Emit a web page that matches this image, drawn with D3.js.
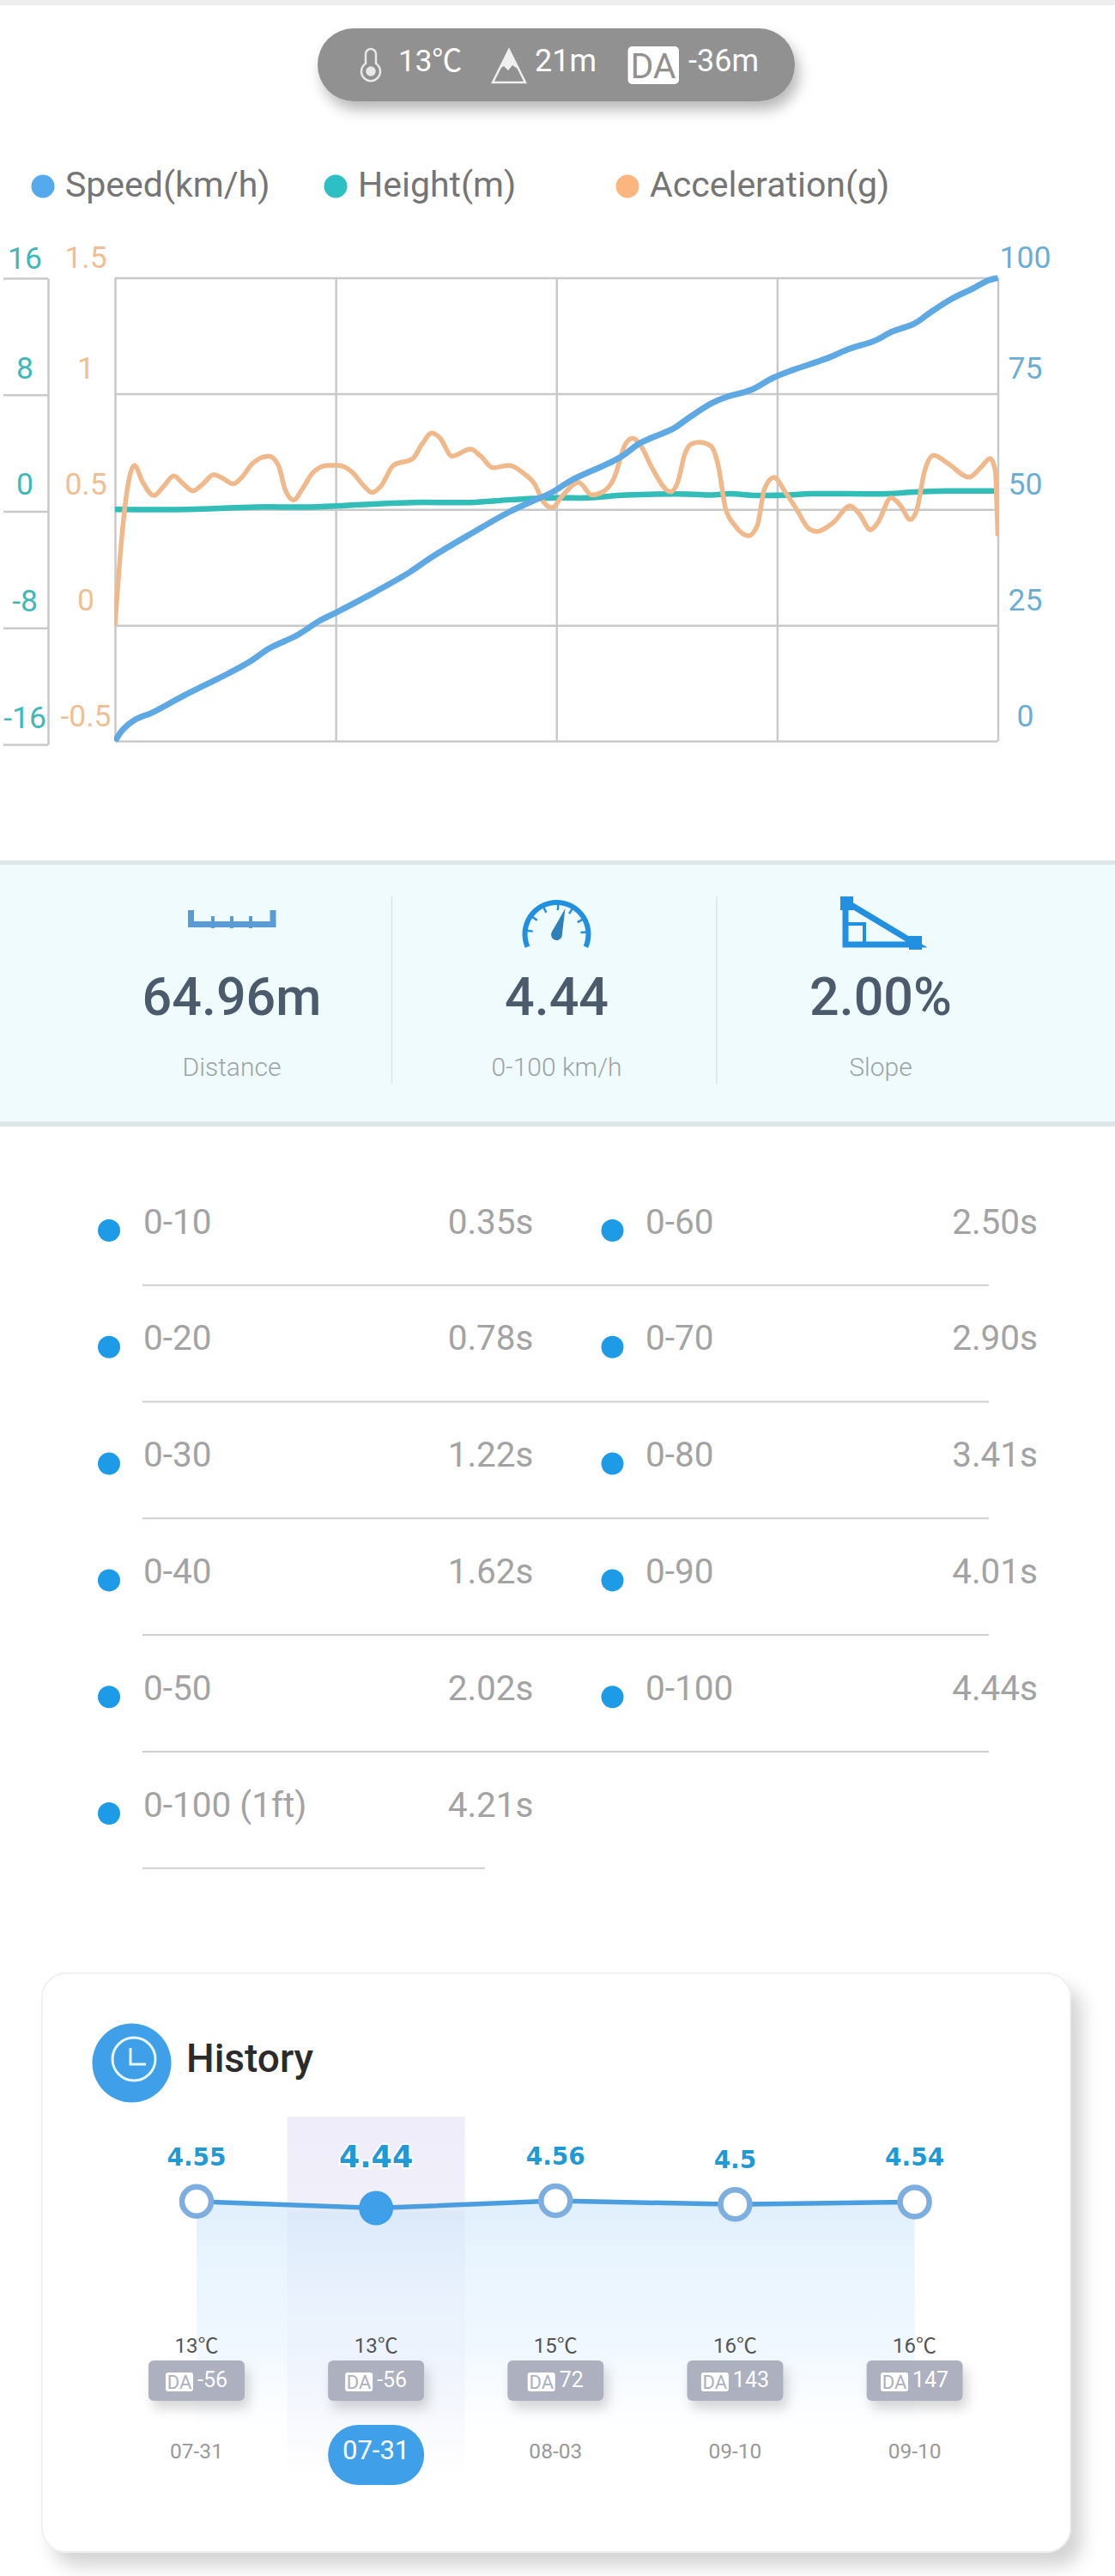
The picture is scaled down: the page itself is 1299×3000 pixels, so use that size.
<!DOCTYPE html>
<html>
<head>
<meta charset="utf-8">
<script src="https://cdn.jsdelivr.net/npm/d3@7"></script>
<style>
  html, body { margin: 0; padding: 0; background: #fff; }
  svg { display: block; font-family: Roboto, "Noto Sans", sans-serif; }
  svg text { font-family: Roboto, "Noto Sans CJK SC", sans-serif; }
</style>
</head>
<body>
<div id="chart"></div>
<script>
// Acceleration run: time in seconds against speed, height and acceleration
const speedTimes = [0,0.04,0.10,0.19,0.35,0.57,0.68,0.78,0.91,1.03,1.11,1.30,1.48,1.60,1.80,1.98,2.10,2.19,2.30,2.47,2.55,2.64,2.81,2.88,3.00,3.07,3.20,3.31,3.41,3.58,3.69,3.82,3.91,4.02,4.10,4.21,4.32,4.39,4.44];
const speedValues = [0,2.5,4.6,6.2,9.9,14.6,17.2,20.1,22.7,26,27.7,32,36.4,39.9,45,49.4,51.8,53.5,56.4,59.7,61.5,64.3,67.5,69.6,72.9,74.2,75.8,78.4,80.1,82.6,84.6,86.4,88.4,90.1,92.5,95.5,97.8,99.4,100];

const heightTimes = [0,0.37,0.71,0.98,1.28,1.50,1.79,1.98,2.21,2.38,2.57,2.88,3.00,3.09,3.22,3.39,3.50,3.89,4.00,4.19,4.44];
const heightValues = [0,0,0.17,0.17,0.36,0.48,0.48,0.66,0.8,0.8,0.99,1.06,0.99,1.08,0.97,0.99,1.08,1.08,1.18,1.27,1.27];

const accelTimes = [0,0.03,0.057,0.098,0.138,0.195,0.245,0.295,0.344,0.392,0.442,0.496,0.54,0.594,0.639,0.693,0.773,0.822,0.854,0.899,0.943,0.997,1.069,1.122,1.194,1.248,1.293,1.337,1.4,1.498,1.543,1.593,1.633,1.695,1.788,1.839,1.901,1.982,2.053,2.11,2.155,2.2,2.239,2.332,2.398,2.454,2.51,2.566,2.603,2.65,2.697,2.794,2.831,2.865,2.902,2.94,2.996,3.033,3.071,3.118,3.187,3.23,3.267,3.314,3.37,3.426,3.492,3.529,3.613,3.697,3.744,3.8,3.837,3.903,3.95,4.0,4.034,4.071,4.118,4.193,4.295,4.352,4.402,4.428,4.436,4.44];
const accelValues = [0,0.34,0.56,0.69,0.62,0.56,0.6,0.645,0.61,0.58,0.61,0.65,0.635,0.61,0.64,0.7,0.73,0.69,0.59,0.54,0.59,0.66,0.69,0.69,0.66,0.605,0.573,0.6,0.69,0.72,0.78,0.83,0.81,0.73,0.76,0.73,0.68,0.69,0.657,0.61,0.532,0.507,0.547,0.617,0.562,0.576,0.635,0.78,0.808,0.767,0.686,0.576,0.62,0.737,0.784,0.79,0.774,0.693,0.503,0.43,0.386,0.43,0.59,0.638,0.576,0.503,0.415,0.405,0.444,0.515,0.48,0.412,0.444,0.55,0.517,0.456,0.503,0.664,0.734,0.696,0.639,0.679,0.72,0.664,0.488,0.385];

const speedTicks = [0,25,50,75,100];
const heightTicks = [-16,-8,0,8,16];
const accelTicks = [-0.5,0,0.5,1,1.5];
const timeTicks = [0,1.11,2.22,3.33,4.44];

const legendNames = ["Speed(km/h)","Height(m)","Acceleration(g)"];
const legendColors = ["#55aaee","#2cbfc4","#fbb57e"];

const statValues = ["64.96m","4.44","2.00%"];
const statNames = ["Distance","0-100 km/h","Slope"];

const splitNames = ["0-10","0-20","0-30","0-40","0-50","0-100 (1ft)"];
const splitTimes = ["0.35s","0.78s","1.22s","1.62s","2.02s","4.21s"];
const splitNames2 = ["0-60","0-70","0-80","0-90","0-100"];
const splitTimes2 = ["2.50s","2.90s","3.41s","4.01s","4.44s"];

const historyRuns = ["a","b","c","d","e"];
const historyValues = [4.55,4.44,4.56,4.5,4.54];
const historyTemps = ["13℃","13℃","15℃","16℃","16℃"];
const historyDA = ["-56","-56","72","143","147"];
const historyDates = ["07-31","07-31","08-03","09-10","09-10"];
const selectedRun = 1;

const svg = d3.select("#chart").append("svg").attr("width",1299).attr("height",3000);
const defs = svg.append("defs");

function shadow(id, dx, dy, blur, opacity) {
  const f = defs.append("filter").attr("id",id).attr("x","-30%").attr("y","-30%").attr("width","170%").attr("height","180%");
  f.append("feDropShadow").attr("dx",dx).attr("dy",dy).attr("stdDeviation",blur).attr("flood-color","#000").attr("flood-opacity",opacity);
}
shadow("pillShadow",5,10,8,0.28);
shadow("cardShadow",13,16,10,0.17);
shadow("badgeShadow",5,9,7,0.16);

function gradient(id, stops) {
  const g = defs.append("linearGradient").attr("id",id).attr("x1",0).attr("x2",0).attr("y1",0).attr("y2",1);
  stops.forEach(s => g.append("stop").attr("offset",s[0]).attr("stop-color",s[1]).attr("stop-opacity",s[2]));
}
gradient("areaFill",[[0,"#dfeffc",1],[0.2,"#e8f4fe",1],[0.6,"#f1f8ff",1],[1,"#ffffff",0]]);
gradient("columnFill",[[0,"#efedf9",1],[0.24,"#efedf9",0.9],[0.27,"#d4e2f6",0.5],[0.5,"#e4eafa",0.35],[0.8,"#eceffb",0.45],[1,"#f8f7fd",0]]);

// Strip along the top edge
svg.append("rect").attr("width",1299).attr("height",6).attr("fill","#eeeeee");

// Conditions pill
const pill = svg.append("g");
pill.append("rect").attr("x",370).attr("y",33).attr("width",556).attr("height",85).attr("rx",42).attr("fill","#919191").attr("filter","url(#pillShadow)");
const therm = pill.append("g").attr("fill","none").attr("stroke","#e8e8e8").attr("stroke-width",2.5);
therm.append("path").attr("d","M426 74 V63 a6 6 0 0 1 12 0 V74 a11 11 0 1 1 -12 0 Z");
therm.append("circle").attr("cx",432).attr("cy",83).attr("r",4.5).attr("fill","#e8e8e8");
pill.append("path").attr("d","M593 58 L612 96 L574 96 Z").attr("fill","none").attr("stroke","#f0f0f0").attr("stroke-width",2.5);
pill.append("path").attr("d","M593 58 L603 80 L597 76 L592 82 L587 77 L582 80 Z").attr("fill","#f0f0f0");
pill.append("rect").attr("x",731.5).attr("y",54).attr("width",59.5).attr("height",44).attr("rx",5).attr("fill","#fff");
pill.append("text").attr("x",761).attr("y",91).attr("text-anchor","middle").attr("font-size",41).attr("fill","#919191").text("DA");
pill.selectAll("text.reading").data([["13℃",464],["21m",623],["-36m",802]]).join("text")
  .attr("class","reading").attr("x",d => d[1]).attr("y",83).attr("font-size",(d,i) => i ? 36 : 35).attr("fill","#fff").text(d => d[0]);

// Legend
const legend = svg.append("g");
const legendX = [50,391,731];
legend.selectAll("circle").data(legendNames).join("circle")
  .attr("cx",(d,i) => legendX[i]).attr("cy",217).attr("r",13.5).attr("fill",(d,i) => legendColors[i]);
legend.selectAll("text").data(legendNames).join("text")
  .attr("x",(d,i) => legendX[i]+26).attr("y",229).attr("font-size",41).attr("fill","#757575").text(d => d);

// Main chart scales
const plot = {left:134, right:1162.5, top:323.5, bottom:863};
const x = d3.scaleLinear().domain([0,4.44]).range([plot.left,plot.right]);
const ySpeed = d3.scaleLinear().domain([0,100]).range([plot.bottom,plot.top]);
const yHeight = d3.scaleLinear().domain([-16,16]).range([plot.bottom,plot.top]);
const yAccel = d3.scaleLinear().domain([-0.5,1.5]).range([plot.bottom,plot.top]);
const yHeightStub = d3.scaleLinear().domain([-16,16]).range([867,324]);

const gridColor = "#c9c9c9";
const plainTick = d => String(d);
function styleAxis(g) {
  g.selectAll("line,path").attr("stroke",gridColor).attr("stroke-width",2.5);
  g.selectAll("text").attr("font-size",35.5).attr("text-anchor","middle");
}

// Grid drawn from the time and speed axes
svg.append("g").attr("transform",`translate(0,${plot.bottom})`)
  .call(d3.axisBottom(x).tickValues(timeTicks).tickSize(-(plot.bottom-plot.top)).tickFormat(""))
  .call(styleAxis).select(".domain").remove();

const speedAxis = svg.append("g").attr("transform",`translate(${plot.right},0)`)
  .call(d3.axisRight(ySpeed).tickValues(speedTicks).tickSize(-(plot.right-plot.left)).tickPadding(0).tickFormat(plainTick))
  .call(styleAxis);
speedAxis.select(".domain").remove();
speedAxis.selectAll("text").attr("x",32).attr("y",d => d===100 ? -23 : -29).attr("fill","#6aaed6");

const accelAxis = svg.append("g").attr("transform",`translate(100,0)`)
  .call(d3.axisLeft(yAccel).tickValues(accelTicks).tickSize(0).tickFormat(plainTick))
  .call(styleAxis);
accelAxis.select(".domain").remove();
accelAxis.selectAll("text").attr("x",0).attr("y",d => d===1.5 ? -23 : -29).attr("fill","#efbf93");

const heightAxis = svg.append("g").attr("transform",`translate(56,0)`)
  .call(d3.axisLeft(yHeightStub).tickValues(heightTicks).tickSize(52).tickSizeOuter(0).tickFormat(plainTick))
  .call(styleAxis);
heightAxis.selectAll("text").attr("x",-27).attr("y",d => d===16 ? -23 : -31).attr("fill","#3fb8b8");

defs.append("clipPath").attr("id","plotClip").append("rect")
  .attr("x",plot.left-1).attr("y",plot.top-3).attr("width",plot.right-plot.left+2).attr("height",plot.bottom-plot.top+4);

const lines = svg.append("g").attr("clip-path","url(#plotClip)").attr("fill","none").attr("stroke-linejoin","round");
const lineOf = (times, scale, curve) => d3.line().x((d,i) => x(times[i])).y(d => scale(d)).curve(curve);
lines.append("path").datum(heightValues).attr("d",lineOf(heightTimes,yHeight,d3.curveCatmullRom)).attr("stroke","#33bdb8").attr("stroke-width",6.5);
lines.append("path").datum(accelValues).attr("d",lineOf(accelTimes,yAccel,d3.curveMonotoneX)).attr("stroke","#f0b98c").attr("stroke-width",5.5);
lines.append("path").datum(speedValues).attr("d",lineOf(speedTimes,ySpeed,d3.curveCatmullRom)).attr("stroke","#5ea8e4").attr("stroke-width",7);

// Summary band
const band = svg.append("g");
band.append("rect").attr("y",1002).attr("width",1299).attr("height",310).attr("fill","#dde6e8");
band.append("rect").attr("y",1007).attr("width",1299).attr("height",299).attr("fill","#effbfd");
band.selectAll("line").data([456.5,835]).join("line")
  .attr("x1",d => d).attr("x2",d => d).attr("y1",1044).attr("y2",1262).attr("stroke","#dbe5e8").attr("stroke-width",1.5);
const statX = [270,648.5,1026];
band.selectAll("text.value").data(statValues).join("text").attr("class","value")
  .attr("x",(d,i) => statX[i]).attr("y",1182).attr("text-anchor","middle").attr("font-size",61).attr("font-weight",500).attr("fill","#4b5b6b").text(d => d);
band.selectAll("text.name").data(statNames).join("text").attr("class","name")
  .attr("x",(d,i) => statX[i]).attr("y",1253).attr("text-anchor","middle").attr("font-size",30).attr("font-weight",300).attr("fill","#9da3a6").text(d => d);

// Ruler icon
const ruler = band.append("g").attr("fill","#5b9bd5");
ruler.append("rect").attr("x",219).attr("y",1073).attr("width",102.5).attr("height",7);
[[219,1060,7],[246,1067,4],[268,1067,4],[290,1067,4],[314.5,1060,7]].forEach(t =>
  ruler.append("rect").attr("x",t[0]).attr("y",t[1]).attr("width",t[2]).attr("height",14));

// Gauge icon
const gauge = band.append("g").attr("transform","translate(648.5,1088)");
const gaugeArc = d3.arc().innerRadius(34).outerRadius(40).startAngle(-1.98).endAngle(1.98);
gauge.append("path").attr("d",gaugeArc()).attr("fill","#2190e0");
gauge.selectAll("line").data([-1.45,-0.95,-0.45,0.05,0.55,1.05,1.5]).join("line")
  .attr("x1",d => 35*Math.sin(d)).attr("y1",d => -35*Math.cos(d))
  .attr("x2",d => 28*Math.sin(d)).attr("y2",d => -28*Math.cos(d))
  .attr("stroke","#2190e0").attr("stroke-width",2.5);
gauge.append("path").attr("d","M-6 -2 L10 -30 L6 3 A6 6 0 0 1 -6 -2 Z").attr("fill","#2f7fb8");

// Slope icon
const slopeIcon = band.append("g").attr("fill","none").attr("stroke","#2190e0");
slopeIcon.append("rect").attr("x",979).attr("y",1044).attr("width",15).attr("height",16).attr("fill","#2190e0").attr("stroke","none");
slopeIcon.append("rect").attr("x",1059).attr("y",1090).attr("width",15).attr("height",16).attr("fill","#2190e0").attr("stroke","none");
slopeIcon.append("path").attr("d","M985 1050 V1100 H1068 Z").attr("stroke-width",7);
slopeIcon.append("rect").attr("x",985).attr("y",1076).attr("width",22).attr("height",24).attr("stroke-width",4);

// Split times
function splitColumn(names, times, bulletX, labelX, valueEnd) {
  const g = svg.append("g");
  const rowY = i => 1436.5 + 135.8*i;
  g.selectAll("circle").data(names).join("circle")
    .attr("cx",bulletX).attr("cy",(d,i) => rowY(i)-3.5).attr("r",13).attr("fill","#1d9be6");
  g.selectAll("text.label").data(names).join("text").attr("class","label")
    .attr("x",labelX).attr("y",(d,i) => rowY(i)).attr("font-size",40.5).attr("fill","#a3a3a3").text(d => d);
  g.selectAll("text.time").data(times).join("text").attr("class","time")
    .attr("x",valueEnd).attr("y",(d,i) => rowY(i)).attr("text-anchor","end").attr("font-size",40.5).attr("fill","#a3a3a3").text(d => d);
}
splitColumn(splitNames,splitTimes,127,167,621.5);
splitColumn(splitNames2,splitTimes2,713.5,752,1209);
svg.append("g").selectAll("line").data(splitNames).join("line")
  .attr("x1",166).attr("x2",(d,i) => i<5 ? 1152 : 565)
  .attr("y1",(d,i) => 1496.7+135.8*i).attr("y2",(d,i) => 1496.7+135.8*i)
  .attr("stroke","#cfcfcf").attr("stroke-width",2);

// History card
const card = svg.append("g");
card.append("rect").attr("x",49).attr("y",2298).attr("width",1198).attr("height",674).attr("rx",28)
  .attr("fill","#fff").attr("stroke","#eeeeee").attr("stroke-width",1.5).attr("filter","url(#cardShadow)");
card.append("circle").attr("cx",153.5).attr("cy",2402.5).attr("r",46).attr("fill","#3f9fe8");
card.append("circle").attr("cx",156).attr("cy",2398).attr("r",25).attr("fill","none").attr("stroke","#e8f6ff").attr("stroke-width",3);
card.append("path").attr("d","M152 2385 V2404 H170").attr("fill","none").attr("stroke","#e8f6ff").attr("stroke-width",3);
card.append("text").attr("x",217).attr("y",2413).attr("font-size",46).attr("font-weight",500).attr("fill","#2b2b2b").text("History");

const hx = d3.scalePoint().domain(historyRuns).range([229,1065.6]);
const hy = d3.scaleLinear().domain([4.44,4.56]).range([2571.6,2563]);
const hLine = d3.line().x((d,i) => hx(historyRuns[i])).y(d => hy(d));
const hArea = d3.area().x((d,i) => hx(historyRuns[i])).y0(2860).y1(d => hy(d));

card.append("path").datum(historyValues).attr("d",hArea).attr("fill","url(#areaFill)");
card.append("rect").attr("x",hx(historyRuns[selectedRun])-103.5).attr("y",2465).attr("width",207).attr("height",430).attr("fill","url(#columnFill)");
card.append("path").datum(historyValues).attr("d",hLine).attr("fill","none").attr("stroke","#4a9ee0").attr("stroke-width",5.5);

card.selectAll("circle.run").data(historyValues).join("circle").attr("class","run")
  .attr("cx",(d,i) => hx(historyRuns[i])).attr("cy",d => hy(d))
  .attr("r",(d,i) => i===selectedRun ? 20 : 17)
  .attr("fill",(d,i) => i===selectedRun ? "#3f9fe8" : "#fff")
  .attr("stroke",(d,i) => i===selectedRun ? "none" : "#7eaee0").attr("stroke-width",6.5);

card.selectAll("text.best").data(historyValues).join("text").attr("class","best")
  .attr("x",(d,i) => hx(historyRuns[i])).attr("y",(d,i) => i===selectedRun ? hy(d)-48 : hy(d)-42)
  .attr("text-anchor","middle").style("font-family","'DejaVu Sans'")
  .attr("font-weight",700).attr("font-size",(d,i) => i===selectedRun ? 35 : 28)
  .attr("fill","#1f9ad6").attr("stroke",(d,i) => i===selectedRun ? "#fff" : "none").attr("stroke-width",4).attr("paint-order","stroke")
  .text(d => d);

card.selectAll("text.temp").data(historyTemps).join("text").attr("class","temp")
  .attr("x",(d,i) => hx(historyRuns[i])).attr("y",2740).attr("text-anchor","middle").attr("font-size",24).attr("fill","#555").text(d => d);

historyDA.forEach((value,i) => {
  const cx = hx(historyRuns[i]);
  const badge = card.append("g");
  badge.append("rect").attr("x",cx-56).attr("y",2749).attr("width",112).attr("height",47).attr("rx",6).attr("fill","#adb0bf").attr("filter","url(#badgeShadow)");
  const label = badge.append("text").attr("y",2779.5).attr("font-size",25).attr("fill","#fff").text(value);
  const total = 32 + 5 + label.node().getComputedTextLength();
  const start = cx - total/2;
  label.attr("x",start+37);
  badge.append("rect").attr("x",start).attr("y",2763).attr("width",32).attr("height",22).attr("rx",3).attr("fill","#fff");
  badge.append("text").attr("x",start+16).attr("y",2782).attr("text-anchor","middle").attr("font-size",22).attr("fill","#adb0bf").text("DA");
});

card.append("rect").attr("x",hx(historyRuns[selectedRun])-56).attr("y",2824).attr("width",112).attr("height",70).attr("rx",35).attr("fill","#3f9fe8");
card.selectAll("text.date").data(historyDates).join("text").attr("class","date")
  .attr("x",(d,i) => hx(historyRuns[i])).attr("y",(d,i) => i===selectedRun ? 2864 : 2863).attr("text-anchor","middle")
  .attr("font-size",(d,i) => i===selectedRun ? 31 : 24.5)
  .attr("fill",(d,i) => i===selectedRun ? "#fff" : "#999").text(d => d);
</script>
</body>
</html>
